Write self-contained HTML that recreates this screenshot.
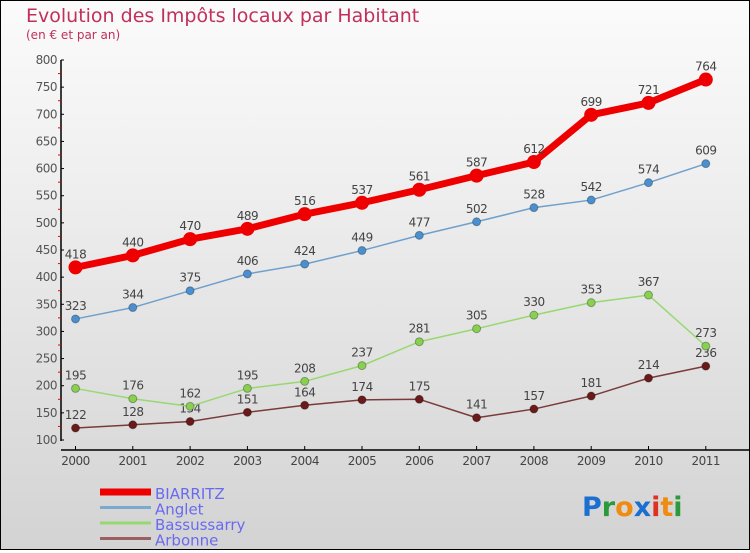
<!DOCTYPE html>
<html><head><meta charset="utf-8"><style>
html,body{margin:0;padding:0}
body{width:750px;height:550px;overflow:hidden;font-family:"DejaVu Sans","Liberation Sans",sans-serif}
#c{position:absolute;left:0;top:0;width:748px;height:548px;border:1px solid #000;background:linear-gradient(#fbfbfb,#f0f0f0 30%,#d3d3d3)}
</style></head><body>
<div id="c">
<svg id="s" width="748" height="548" viewBox="1 1 748 548"></svg>
</div>
<script>
const years=["2000","2001","2002","2003","2004","2005","2006","2007","2008","2009","2010","2011"];
const biarritz=[418,440,470,489,516,537,561,587,612,699,721,764];
const anglet=[323,344,375,406,424,449,477,502,528,542,574,609];
const bassussarry=[195,176,162,195,208,237,281,305,330,353,367,273];
const arbonne=[122,128,134,151,164,174,175,141,157,181,214,236];
const yTicks=[100,150,200,250,300,350,400,450,500,550,600,650,700,750,800];
const names=["BIARRITZ","Anglet","Bassussarry","Arbonne"];
const NS="http://www.w3.org/2000/svg";
const svg=document.getElementById('s');
function x(i){return 75.5+i*57.3;}
function y(v){return 440-(v-100)*380/700;}
function mk(t,a,p){const e=document.createElementNS(NS,t);for(const k in a)e.setAttribute(k,a[k]);(p||svg).appendChild(e);return e;}
function tx(s,a){const e=mk('text',a);e.textContent=s;return e;}
let t=tx("Evolution des Impôts locaux par Habitant",{x:26,y:22,fill:"#c0305a","font-size":19});

t=tx("(en € et par an)",{x:26,y:39,fill:"#c0305a","font-size":12});

// axes
let ax=mk('line',{x1:61,y1:60,x2:61,y2:441,stroke:"#000","stroke-width":1.5});

ax=mk('line',{x1:61,y1:450,x2:749,y2:450,stroke:"#000","stroke-width":1.5});

yTicks.forEach((v,i)=>{
 mk('line',{x1:61,y1:y(v),x2:64,y2:y(v),stroke:"#000"});
 if(i<yTicks.length-1){mk('line',{x1:58,y1:y(v+25),x2:61,y2:y(v+25),stroke:"#e00"});}
 const l=tx(v,{x:57,y:y(v)+4,"text-anchor":"end",fill:"#555","font-size":12,"letter-spacing":"-0.5"});
 
});
years.forEach((yr,i)=>{
 mk('line',{x1:x(i),y1:446,x2:x(i),y2:450,stroke:"#000"});
 const l=tx(yr,{x:x(i),y:465,"text-anchor":"middle",fill:"#444","font-size":12,"letter-spacing":"-0.5"});
 
});
const series=[
 {d:arbonne,c:"#7a3a3a",m:"#6b1a1a",w:1.5,r:4,n:"arbonne"},
 {d:bassussarry,c:"#98d870",m:"#88d050",w:1.5,r:4,n:"bassussarry"},
 {d:anglet,c:"#6fa0cc",m:"#4a90d0",w:1.5,r:4,n:"anglet"},
 {d:biarritz,c:"#ee0000",m:"#ee0000",w:7,r:7,n:"biarritz"}];
series.forEach(s=>{
 const g=mk('g',{});
 
 const p=mk('polyline',{points:s.d.map((v,i)=>x(i)+','+y(v)).join(' '),fill:"none",stroke:s.c,"stroke-width":s.w,"stroke-linejoin":"round"},g);
 
 s.d.forEach((v,i)=>{
  const c=mk('circle',{cx:x(i),cy:y(v),r:s.r,fill:s.m,stroke:"rgba(0,0,0,0.3)","stroke-width":s.r>5?0:1},g);
  
  const l=tx(v,{x:x(i),y:y(v)-9,"text-anchor":"middle",fill:"#444","font-size":12,"letter-spacing":"-0.5"});
  
 });
});
// legend
const lc=["#ee0000","#7aaad0","#98d870","#9a6060"],lw=[7,3,3,3];
names.forEach((n,i)=>{
 const yy=492+i*15.5;
 const g=mk('g',{});
 
 mk('line',{x1:100,y1:yy,x2:151,y2:yy,stroke:lc[i],"stroke-width":lw[i]},g);
 const l=tx(n,{x:155,y:yy+7,fill:"#6a6af0","font-size":15},g);
 g.appendChild(l);
});
// logo
const logo=mk('text',{x:582,y:516,"font-size":27,"font-weight":"bold","font-family":"DejaVu Sans, sans-serif"});

[["P","#1a6fd0"],["r","#2a9a3a"],["o","#f08a10"],["x","#1a6fd0"],["i","#e03020"],["t","#f08a10"],["i","#2a9a3a"]].forEach(([ch,c])=>{const s=mk('tspan',{fill:c},logo);s.textContent=ch;});
</script>
</body></html>
